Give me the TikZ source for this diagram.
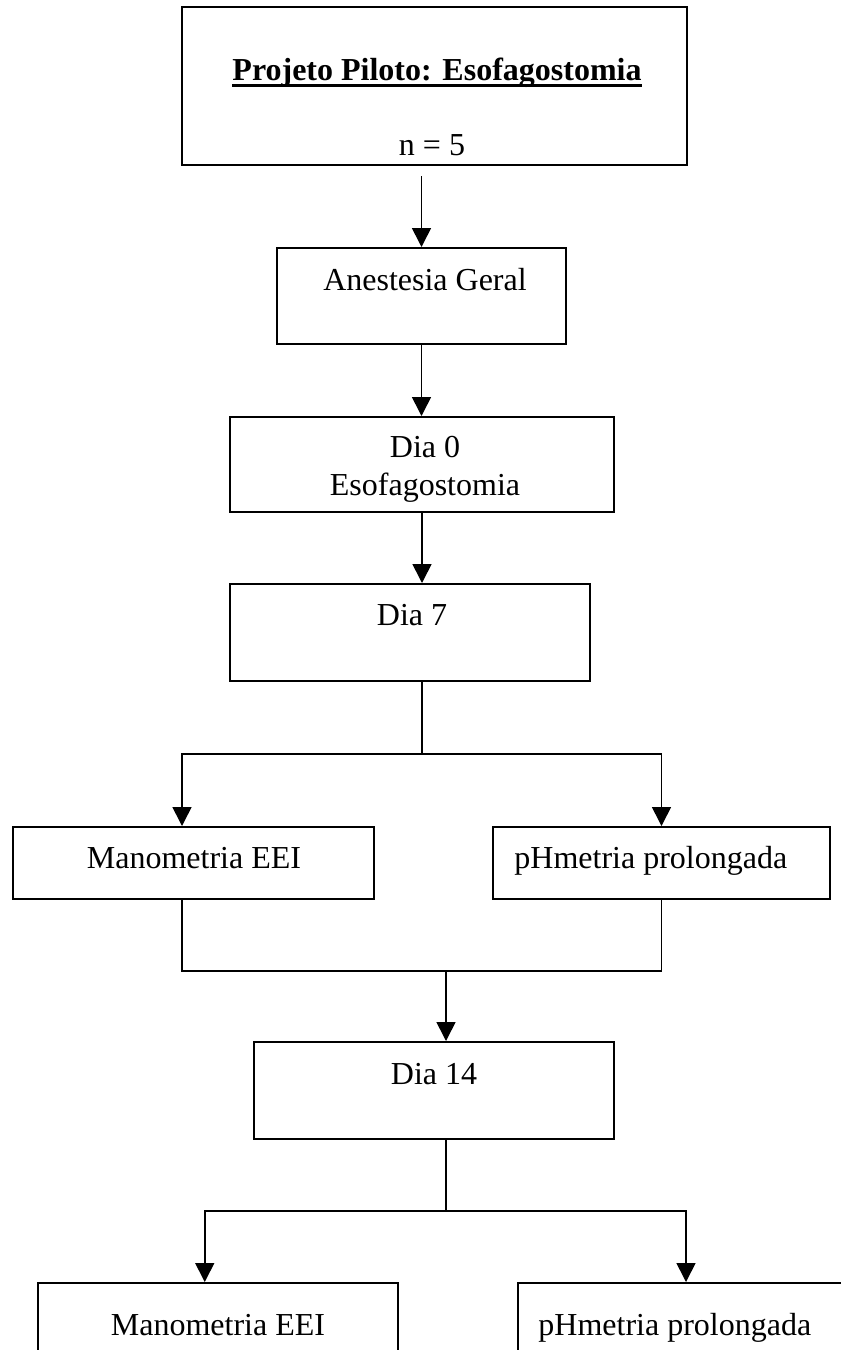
\documentclass[tikz,border=0pt]{standalone}
\usepackage{fontspec}
\setmainfont{Liberation Serif}
\usetikzlibrary{arrows.meta,positioning,calc}

\begin{document}
\begin{tikzpicture}[x=0.5pt,y=-0.5pt,
        >={Triangle[length=9.5pt,width=9.5pt]},
        box/.style = {draw,line width=1pt,inner sep=0pt},
        txt/.style = {inner sep=0pt,anchor=base,font=\fontsize{16pt}{19pt}\selectfont},
        conn/.style = {line width=0.8pt}
        ]

        %Rand
        \clip (0,0) rectangle (841,1350);

        %Projeto
        \node[box,minimum width=252.5pt,minimum height=79pt] (proj) at (434.5,86) {};
        \node[txt,font=\fontsize{16pt}{19pt}\selectfont\bfseries] (title) at (437,80) {Projeto Piloto: Esofagostomia};
        \draw[line width=1.5pt] ([yshift=-2.8pt]title.base west) -- ([yshift=-2.8pt]title.base east);
        \node[txt] (n) at (432,155) {n = 5};

        %Anestesia und Dia 0
        \node[box,minimum width=144.5pt,minimum height=48pt] (anest) at (421.5,296) {};
        \node[txt] (tanest) at (425,290) {Anestesia Geral};
        \node[box,minimum width=192pt,minimum height=47.5pt] (dia0) at (422,464.5) {};
        \node[txt] (tdia0) at (425,457) {Dia 0};
        \node[txt] (teso) at (425,495) {Esofagostomia};
        \draw[conn,->,shorten <=5pt] (proj.south -| anest) -- (anest.north);
        \draw[conn,->] (anest.south) -- (anest.south |- dia0.north);

        %Dia 7
        \node[box,minimum width=180pt,minimum height=48.5pt] (dia7) at (410,632.5) {};
        \node[txt] (tdia7) at (412,625) {Dia 7};
        \draw[conn,->] (dia0.south) -- (dia0.south |- dia7.north);
        \coordinate (b1) at (422,754);
        \draw[conn] (dia7.south -| b1) -- (b1);

        \node[box,minimum width=180.5pt,minimum height=36pt] (mano1) at (193.5,863) {};
        \node[txt] (tmano1) at (194,868) {Manometria EEI};
        \node[box,minimum width=168.5pt,minimum height=36pt] (ph1) at (661.5,863) {};
        \node[txt,anchor=base west] (tph1) at (514,868) {pHmetria prolongada};
        \draw[conn,->] (b1) -| ([xshift=-5.75pt]mano1.north);
        \draw[conn,->] (b1) -| (ph1.north);

        %Dia 14
        \coordinate (m1) at (446,971);
        \draw[conn] ([xshift=-5.75pt]mano1.south) |- (m1) -| (ph1.south);
        \node[box,minimum width=180pt,minimum height=48.5pt] (dia14) at (434,1090.5) {};
        \node[txt] (tdia14) at (434,1084) {Dia 14};
        \draw[conn,->] (m1) -- (m1 |- dia14.north);
        \coordinate (b2) at (446,1211);
        \draw[conn] (dia14.south -| b2) -- (b2);

        \node[box,minimum width=180.25pt,minimum height=50pt] (mano2) at (217.75,1333) {};
        \node[txt] (tmano2) at (218,1335) {Manometria EEI};
        \node[box,minimum width=168pt,minimum height=50pt] (ph2) at (686,1333) {};
        \node[txt,anchor=base west] (tph2) at (538,1335) {pHmetria prolongada};
        \draw[conn,->] (b2) -| ([xshift=-6.5pt]mano2.north);
        \draw[conn,->] (b2) -| (ph2.north);

\end{tikzpicture}
\end{document}
